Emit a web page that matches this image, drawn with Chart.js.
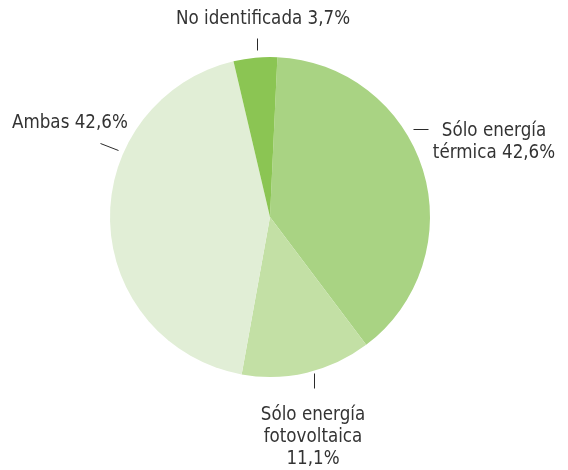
<!DOCTYPE html>
<html>
<head>
<meta charset="utf-8">
<script src="https://cdn.jsdelivr.net/npm/chart.js@4/dist/chart.umd.min.js"></script>
<style>
html,body{margin:0;padding:0;background:#fff;}
#wrap{width:568px;height:470px;position:relative;}
</style>
</head>
<body>
<div id="wrap"><canvas id="c" width="568" height="470"></canvas></div>
<script>
// Categories (clockwise from top)
const categories = ["Sólo energía térmica", "Sólo energía fotovoltaica", "Ambas", "No identificada"];
// Slice sizes as drawn in the picture (share of the circle, %)
const sliceValues = [39.0, 13.1, 43.5, 4.4];
// Label texts as printed
const labelLines = [
  ["Sólo energía", "térmica 42,6%"],
  ["Sólo energía", "fotovoltaica", "11,1%"],
  ["Ambas 42,6%"],
  ["No identificada 3,7%"]
];
const colors = ["#a9d383", "#c3e0a5", "#e1eed6", "#8bc553"];

// label placement relative to pie center (style only)
const labelStyle = [
  {tx: 224, ty: -86, align: "center", tick: [[143, -88], [158, -88]]},
  {tx: 43, ty: 198, align: "center", tick: [[44, 156], [44, 171]]},
  {tx: -258, ty: -94, align: "left", tick: [[-152, -67], [-170, -74]]},
  {tx: -7, ty: -198, align: "center", tick: [[-13, -167], [-13, -179]]}
];

const labelPlugin = {
  id: "outLabels",
  afterDatasetsDraw(chart) {
    const ctx = chart.ctx;
    const meta = chart.getDatasetMeta(0);
    const arc = meta.data[0];
    const cx = Math.round(arc.x), cy = Math.round(arc.y);
    ctx.save();
    ctx.fillStyle = "#333333";
    ctx.strokeStyle = "#2a2a2a";
    ctx.lineWidth = 1;
    labelLines.forEach((lines, i) => {
      const s = labelStyle[i];
      ctx.beginPath();
      ctx.moveTo(cx + s.tick[0][0] + 0.5, cy + s.tick[0][1] + 0.5);
      ctx.lineTo(cx + s.tick[1][0] + 0.5, cy + s.tick[1][1] + 0.5);
      ctx.stroke();
      const lh = 22;
      lines.forEach((ln, j) => {
        ctx.save();
        ctx.translate(cx + s.tx, cy + s.ty + j * lh);
        ctx.scale(0.93, 1);
        ctx.font = '20px "DejaVu Sans Condensed", "Liberation Sans Narrow", sans-serif';
        ctx.textBaseline = "middle";
        ctx.textAlign = s.align;
        ctx.fillText(ln, 0, 0);
        ctx.restore();
      });
    });
    ctx.restore();
  }
};

new Chart(document.getElementById("c"), {
  type: "pie",
  data: {
    labels: categories,
    datasets: [{
      data: sliceValues,
      backgroundColor: colors,
      borderWidth: 0
    }]
  },
  options: {
    responsive: false,
    animation: false,
    rotation: 2.65,
    layout: {padding: {left: 110, right: 138, top: 57, bottom: 93}},
    plugins: {legend: {display: false}, tooltip: {enabled: false}}
  },
  plugins: [labelPlugin]
});
</script>
</body>
</html>
